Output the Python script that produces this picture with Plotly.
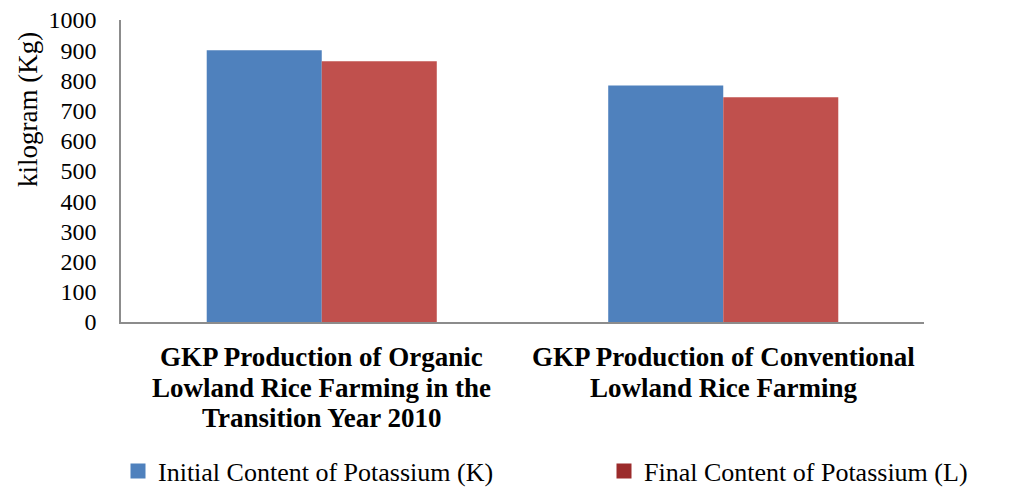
import plotly.graph_objects as go

categories = [
    "GKP Production of Organic<br>Lowland Rice Farming in the<br>Transition Year 2010",
    "GKP Production of Conventional<br>Lowland Rice Farming",
]
series_names = ["Initial Content of Potassium (K)", "Final Content of Potassium (L)"]
initial_k = [900, 783]
final_l = [863, 744]
y_ticks = list(range(0, 1001, 100))

bar_colors = ["#4F81BD", "#C0504D"]
legend_colors = ["#4F81BD", "#9B2B2B"]
FONT = "Liberation Serif, Times New Roman, serif"

fig = go.Figure()
for name, vals, col in zip(series_names, [initial_k, final_l], bar_colors):
    fig.add_trace(go.Bar(x=categories, y=vals, name=name, marker_color=col,
                         marker_line_width=0, showlegend=False))
for name, col, leg in zip(series_names, legend_colors, ["legend", "legend2"]):
    fig.add_trace(go.Scatter(x=[None], y=[None], mode="markers", name=name, legend=leg,
                             marker=dict(symbol="square", size=15, color=col)))

legend_common = dict(orientation="h", xref="container", yref="container",
                     y=17 / 488, xanchor="left", yanchor="middle",
                     font=dict(size=26, family=FONT), bgcolor="rgba(0,0,0,0)")
fig.update_layout(
    width=1016, height=488,
    margin=dict(l=121, r=92, t=20, b=166, autoexpand=False),
    paper_bgcolor="white", plot_bgcolor="white",
    barmode="group", bargap=0.427, bargroupgap=0,
    font=dict(family=FONT, color="black"),
    showlegend=True,
    legend=dict(x=118 / 1016, **legend_common),
    legend2=dict(x=604 / 1016, **legend_common),
)
fig.update_xaxes(
    type="category", showline=True, linecolor="#8C8C8C", linewidth=2,
    ticks="", showgrid=False, showticklabels=False,
)
fig.update_yaxes(
    range=[0, 1000], tickvals=y_ticks, showline=True, linecolor="#8C8C8C",
    linewidth=1.5, ticks="", showgrid=False, zeroline=False,
    ticklabelstandoff=18, tickfont=dict(size=24, family=FONT),
)
# category labels, one annotation per text line (tighter line spacing as in reference)
for cat in categories:
    for i, line in enumerate(cat.split("<br>")):
        fig.add_annotation(text="<b>" + line + "</b>", x=cat, xref="x", yref="paper",
                           y=0, yanchor="middle", yshift=-(35 + 30.5 * i),
                           showarrow=False, font=dict(size=27, family=FONT))
fig.add_annotation(text="kilogram (Kg)", textangle=-90, xref="paper", yref="paper",
                   x=0, y=0.702, xanchor="center", yanchor="middle", xshift=-93,
                   showarrow=False, font=dict(size=27, family=FONT))
fig.write_html("out.html", config={"displayModeBar": False},
               post_script="document.body.style.margin='0px';")
